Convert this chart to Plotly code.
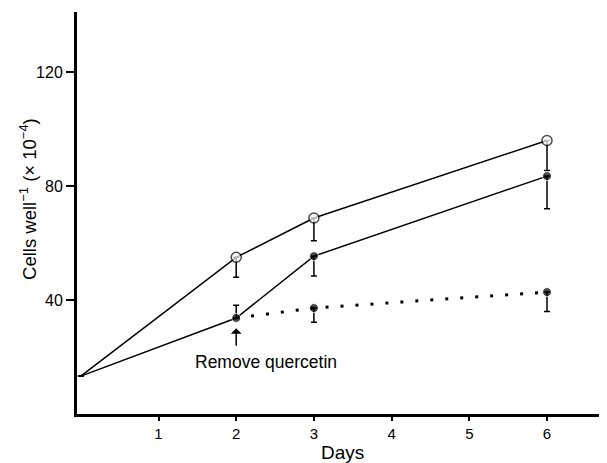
import plotly.graph_objects as go

# Data
days = [0, 2, 3, 6]
control = [13.3, 55.0, 68.8, 96.0]           # open circles
control_err_down = [0, 7.0, 8.0, 10.5]
treated = [13.3, 33.7, 55.4, 83.5]           # filled circles, solid line
treated_err_up = [0, 4.5, 0, 0]
treated_err_down = [0, 0, 7.0, 11.5]
quercetin_days = [2, 3, 6]
quercetin = [33.7, 37.2, 42.8]               # filled circles, dotted line
quercetin_err_down = [0, 5.0, 6.8]

x_ticks = [1, 2, 3, 4, 5, 6]
y_ticks = [40, 80, 120]

FONT = "Liberation Sans, Arial, Helvetica, sans-serif"

fig = go.Figure()

fig.add_trace(go.Scatter(
    x=days, y=control, mode="lines+markers",
    line=dict(color="black", width=1.5),
    marker=dict(symbol="circle", size=[0, 10, 10, 10], color="white",
                line=dict(color="black", width=1.5)),
    error_y=dict(type="data", symmetric=False, array=[0, 0, 0, 0],
                 arrayminus=control_err_down, color="black", thickness=1.5, width=3),
    showlegend=False, cliponaxis=False,
))

fig.add_trace(go.Scatter(
    x=quercetin_days, y=quercetin, mode="lines+markers",
    line=dict(color="black", width=3, dash="3px,12px"),
    marker=dict(symbol="circle", size=[0, 9, 9], color="black"),
    error_y=dict(type="data", symmetric=False, array=[0, 0, 0],
                 arrayminus=quercetin_err_down, color="black", thickness=1.5, width=3),
    showlegend=False, cliponaxis=False,
))

fig.add_trace(go.Scatter(
    x=days, y=treated, mode="lines+markers",
    line=dict(color="black", width=1.5),
    marker=dict(symbol="circle", size=[0, 9, 9, 9], color="black"),
    error_y=dict(type="data", symmetric=False, array=treated_err_up,
                 arrayminus=treated_err_down, color="black", thickness=1.5, width=3),
    showlegend=False, cliponaxis=False,
))

# Arrow and label
fig.add_annotation(x=2, y=30.1, ax=2, ay=23.4, xref="x", yref="y", axref="x", ayref="y",
                   text="", showarrow=True, arrowhead=1, arrowsize=1.2,
                   arrowwidth=1.5, arrowcolor="black")
fig.add_annotation(x=1.44, y=18.4, xref="x", yref="y", text="Remove quercetin",
                   showarrow=False, xanchor="left", yanchor="middle",
                   font=dict(family=FONT, size=17.5, color="black"))

# Axis titles
fig.add_annotation(x=-0.0925, y=0.535, xref="paper", yref="paper",
                   text="Cells well<sup>−1</sup> (× 10<sup>−4</sup>)", textangle=-90,
                   showarrow=False, xanchor="center", yanchor="middle",
                   font=dict(family=FONT, size=18.5, color="black"))
fig.add_annotation(x=0.5, y=-0.097, xref="paper", yref="paper", text="Days",
                   showarrow=False, xanchor="center", yanchor="middle",
                   font=dict(family=FONT, size=19, color="black"))

fig.update_xaxes(range=[-0.049, 6.772], tickvals=x_ticks, ticktext=[str(v) for v in x_ticks],
                 showline=True, linecolor="black", linewidth=3, ticks="outside",
                 ticklen=4, tickwidth=1.5, tickcolor="black", showgrid=False, zeroline=False,
                 tickfont=dict(family=FONT, size=15, color="black"))
fig.update_yaxes(range=[0, 141.1], tickvals=y_ticks, ticktext=[str(v) for v in y_ticks],
                 showline=True, linecolor="black", linewidth=3, ticks="outside",
                 ticklen=8, tickwidth=1.5, tickcolor="black", showgrid=False, zeroline=False,
                 tickfont=dict(family=FONT, size=16, color="black"))

# The page body adds an 8px offset; sizes/margins compensate for it
fig.update_layout(width=599, height=455, margin=dict(l=69, r=0, t=4, b=49, autoexpand=False),
                  plot_bgcolor="white", paper_bgcolor="white")

fig.write_html("out.html")
